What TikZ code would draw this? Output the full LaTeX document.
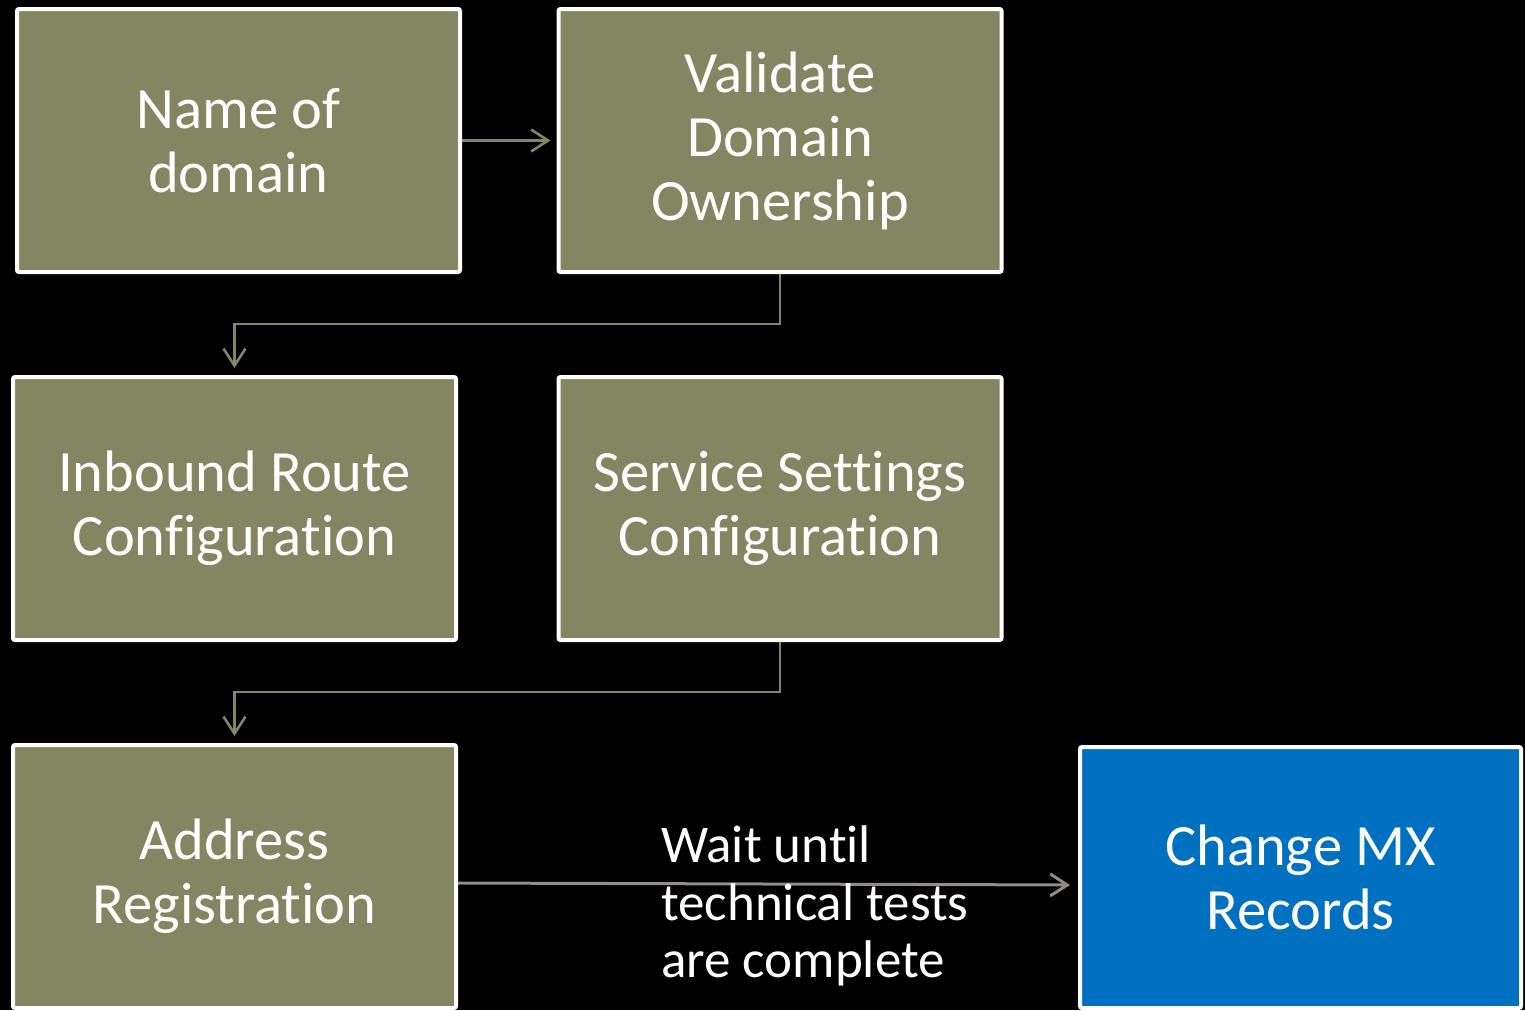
\documentclass[tikz,border=0pt]{standalone}
\usepackage{fontspec}
\setmainfont{Carlito}[Ligatures=NoCommon]
\usetikzlibrary{arrows.meta,calc}
\definecolor{olivebox}{RGB}{131,134,97}
\definecolor{bluebox}{RGB}{0,112,192}
\definecolor{waitgray}{RGB}{150,140,134}
\tikzset{
  stepbox/.style={draw=white, line width=4pt, fill=olivebox, rounded corners=2pt,
    minimum width=443pt, minimum height=263pt, inner sep=0pt,
    text=white, align=center, font=\fontsize{58.5}{64}\selectfont},
  finalbox/.style={stepbox, fill=bluebox, minimum width=441pt, minimum height=261pt},
  flow/.style={draw=olivebox, line width=2.2pt,
    -{Straight Barb[length=17pt,width=22pt,line width=2.6pt]}},
  waitflow/.style={draw=waitgray, line width=3pt,
    -{Straight Barb[length=17pt,width=22pt,line width=3pt]}},
  note/.style={text=white, align=left, inner sep=0pt, anchor=west,
    font=\fontsize{53}{57.5}\selectfont}
}
\begin{document}
\begin{tikzpicture}[x=1pt,y=-1pt]
  \fill[black] (0,0) rectangle (1525,1010);
  \useasboundingbox (0,0) rectangle (1525,1010);

  \node[stepbox] (name)     at (238.5,140.5) {Name of\\domain};
  \node[stepbox] (validate) at (780,140.5)   {Validate\\Domain\\Ownership};
  \node[stepbox] (inbound)  at (234.5,508.5) {Inbound Route\\Configuration};
  \node[stepbox] (service)  at (780,508.5)   {Service Settings\\Configuration};
  \node[stepbox] (address)  at (234.5,876.5) {Address\\Registration};
  \node[finalbox] (mx)      at (1300.5,877.5) {Change MX\\Records};

  \draw[flow, shorten >=6pt] (name.east) -- (validate.west);
  \draw[flow, shorten >=7pt] (validate.south) -- ++(0,50) -| (inbound.north);
  \draw[flow, shorten >=7pt] (service.south) -- ++(0,50) -| (address.north);
  \draw[waitflow, shorten >=8pt] ([yshift=-6.5pt]address.east) -- ([yshift=-7.5pt]mx.west);

  \node[note] (wait) at (661,906) {Wait until\\technical tests\\are complete};
\end{tikzpicture}
\end{document}
